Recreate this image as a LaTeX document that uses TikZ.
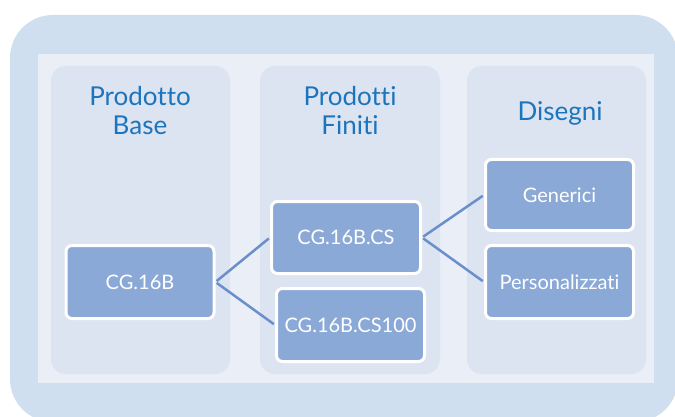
\documentclass[tikz,border=0pt]{standalone}
\usepackage{fontspec}
\setmainfont{Lato}[Ligatures={NoCommon,NoContextual,NoRequired}]
\definecolor{outerc}{HTML}{D0DFEF}
\definecolor{innerc}{HTML}{E9EEF7}
\definecolor{panelc}{HTML}{DCE3F1}
\definecolor{boxc}{HTML}{8AA9D6}
\definecolor{linec}{HTML}{6A8FCB}
\definecolor{titlec}{HTML}{1C75BC}
\begin{document}
\begin{tikzpicture}[x=1pt,y=-1pt,
  panel/.style={fill=panelc, rounded corners=15pt},
  item/.style={draw=white, line width=3pt, fill=boxc, rounded corners=6pt, text=white,
    font=\fontsize{20}{24}\selectfont, minimum width=148pt, minimum height=73pt, inner sep=0pt},
  title/.style={text=titlec, font=\fontsize{26}{29}\selectfont, align=center, inner sep=0pt},
  link/.style={draw=linec, line width=2.5pt, shorten >=1.5pt, shorten <=1.5pt}]
\fill[white] (0,0) rectangle (675,417);
\useasboundingbox (0,0) rectangle (675,417);
\fill[outerc, rounded corners=43pt] (10,15) rectangle (678,422);
\fill[innerc] (38,54) rectangle (654,383);
\fill[panel] (51,66) rectangle (230,374);
\fill[panel] (260,66) rectangle (440,374);
\fill[panel] (467,66) rectangle (646,374);
\node[title] (t1) at (140,111) {Prodotto\\Base};
\node[title] (t2) at (350,111) {Prodotti\\Finiti};
\node[title] (t3) at (560,113) {Disegni};
\node[item] (b1) at (140,282) {CG.16B};
\node[item, minimum width=149pt, minimum height=72pt] (b2) at (346,237.5) {CG.16B.CS};
\node[item] (b3) at (350.5,325) {CG.16B.CS100};
\node[item, minimum height=71pt] (b4) at (559.5,195) {Generici};
\node[item] (b5) at (559.5,282) {Personalizzati};
\draw[link] (b1.east) -- (b2.west);
\draw[link] (b1.east) -- (b3.west);
\draw[link] (b2.east) -- (b4.west);
\draw[link] (b2.east) -- (b5.west);
\end{tikzpicture}
\end{document}
